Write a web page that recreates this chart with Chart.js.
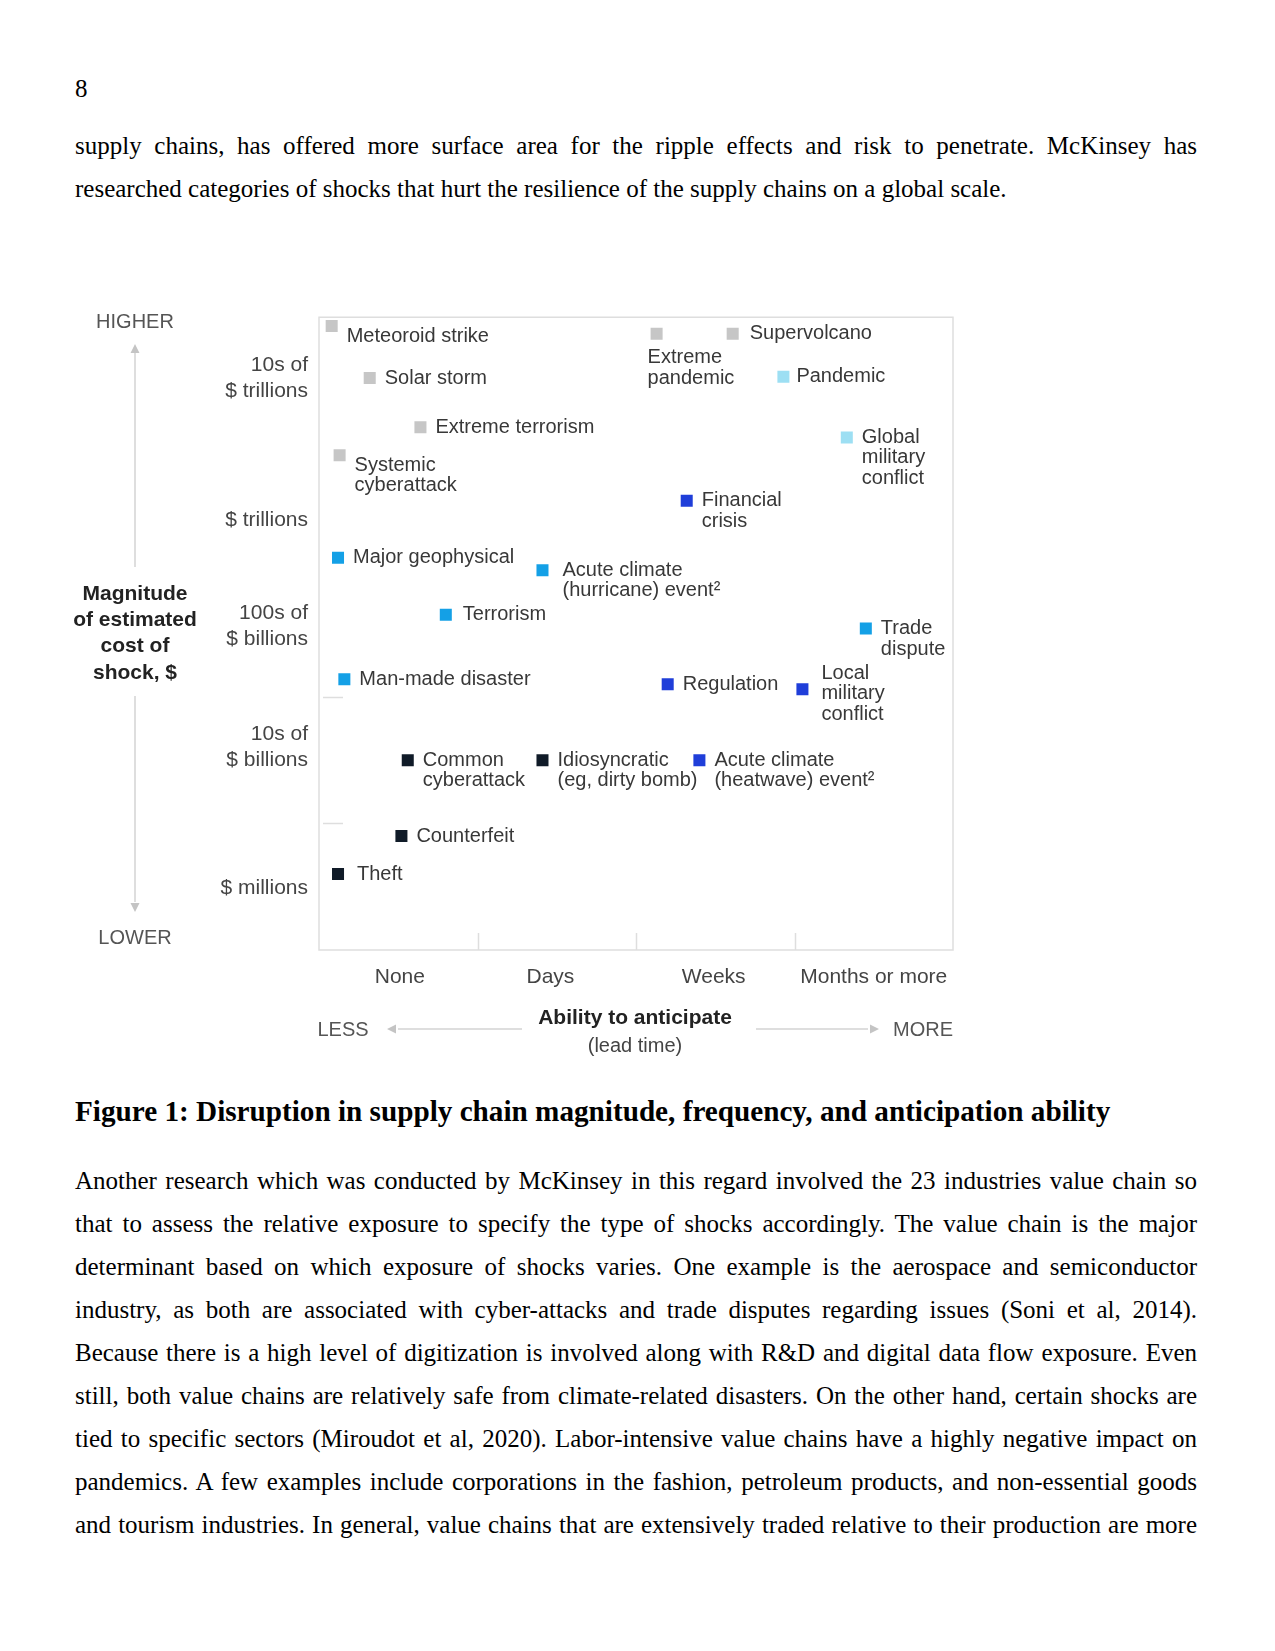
<!DOCTYPE html>
<html><head><meta charset="utf-8">
<script src="https://cdn.jsdelivr.net/npm/chart.js@4.4.1/dist/chart.umd.min.js"></script>
<style>
html,body{margin:0;padding:0;background:#fff;}
body{width:1275px;height:1651px;position:relative;overflow:hidden;font-family:"Liberation Serif","Times New Roman",serif;color:#000;}
.ln{position:absolute;left:75px;white-space:nowrap;font-size:25px;line-height:43px;}
.cap{position:absolute;left:75px;font-weight:bold;font-size:29.2px;line-height:43px;white-space:nowrap;}
#chartWrap{position:absolute;left:0;top:280px;width:1000px;height:790px;}
</style></head><body>
<div class="ln" style="top:67px;">8</div>
<div class="ln j" style="top:124px;">supply chains, has offered more surface area for the ripple effects and risk to penetrate. McKinsey has</div>
<div class="ln" style="top:167px;">researched categories of shocks that hurt the resilience of the supply chains on a global scale.</div>

<div id="chartWrap"><canvas id="c" width="1000" height="790"></canvas></div>

<div class="cap" style="top:1090px;">Figure 1: Disruption in supply chain magnitude, frequency, and anticipation ability</div>

<div class="ln j" style="top:1159px;">Another research which was conducted by McKinsey in this regard involved the 23 industries value chain so</div>
<div class="ln j" style="top:1202px;">that to assess the relative exposure to specify the type of shocks accordingly. The value chain is the major</div>
<div class="ln j" style="top:1245px;">determinant based on which exposure of shocks varies. One example is the aerospace and semiconductor</div>
<div class="ln j" style="top:1288px;">industry, as both are associated with cyber-attacks and trade disputes regarding issues (Soni et al, 2014).</div>
<div class="ln j" style="top:1331px;">Because there is a high level of digitization is involved along with R&amp;D and digital data flow exposure. Even</div>
<div class="ln j" style="top:1374px;">still, both value chains are relatively safe from climate-related disasters. On the other hand, certain shocks are</div>
<div class="ln j" style="top:1417px;">tied to specific sectors (Miroudot et al, 2020). Labor-intensive value chains have a highly negative impact on</div>
<div class="ln j" style="top:1460px;">pandemics. A few examples include corporations in the fashion, petroleum products, and non-essential goods</div>
<div class="ln j" style="top:1503px;">and tourism industries. In general, value chains that are extensively traded relative to their production are more</div>

<script>
// ---------- DATA ----------
const leadTimeLabels = ['None', 'Days', 'Weeks', 'Months or more'];
const leadTimeTickValues = [0.51, 1.46, 2.49, 3.5];
const magnitudeLabels = ['$ millions', ['10s of', '$ billions'], ['100s of', '$ billions'], '$ trillions', ['10s of', '$ trillions']];
const magnitudeTickValues = [0.49, 1.6, 2.56, 3.4, 4.52];

const shockNames = [
  'Meteoroid strike', 'Solar storm', 'Extreme terrorism', 'Systemic\ncyberattack',
  'Extreme\npandemic', 'Supervolcano', 'Pandemic', 'Global\nmilitary\nconflict',
  'Financial\ncrisis', 'Major geophysical', 'Acute climate\n(hurricane) event\u00B2', 'Terrorism',
  'Man-made disaster', 'Trade\ndispute', 'Regulation', 'Local\nmilitary\nconflict',
  'Common\ncyberattack', 'Idiosyncratic\n(eg, dirty bomb)', 'Acute climate\n(heatwave) event\u00B2', 'Counterfeit', 'Theft'
];
const leadTime = [
  0.08, 0.32, 0.64, 0.13,
  2.13, 2.61, 2.93, 3.33,
  2.32, 0.12, 1.41, 0.80,
  0.16, 3.45, 2.20, 3.05,
  0.56, 1.41, 2.40, 0.52, 0.12
];
const costMagnitude = [
  4.93, 4.52, 4.13, 3.91,
  4.87, 4.87, 4.53, 4.05,
  3.55, 3.10, 3.00, 2.65,
  2.14, 2.54, 2.10, 2.06,
  1.50, 1.50, 1.50, 0.90, 0.60
];
// frequency group of each shock (0..4)
const shockGroup = [
  0, 0, 0, 0,
  0, 0, 1, 1,
  3, 2, 2, 2,
  2, 2, 3, 3,
  4, 4, 3, 4, 4
];
const groupNames = ['Group A', 'Group B', 'Group C', 'Group D', 'Group E'];

// ---------- STYLE ----------
const groupColors = ['#c6c6c6', '#9ddff3', '#14a0e6', '#1f3ed9', '#101b28'];
const labelOffsets = {
  'Meteoroid strike': {dy: 10},
  'Systemic\ncyberattack': {dy: 10},
  'Extreme\npandemic': {dx: -9, dy: 24},
  'Local\nmilitary\nconflict': {dx: 19, dy: -16},
  'Acute climate\n(hurricane) event\u00B2': {dx: 20},
  'Supervolcano': {dx: 17},
  'Pandemic': {dx: 13},
  'Theft': {dx: 19},
  'Terrorism': {dx: 17}
};
const SANS = '"Liberation Sans", Arial, Helvetica, sans-serif';

const datasets = groupNames.map((g, gi) => {
  const pts = [], names = [];
  shockNames.forEach((n, i) => {
    if (shockGroup[i] === gi) { pts.push({x: leadTime[i], y: costMagnitude[i]}); names.push(n); }
  });
  return {
    label: g, data: pts, names: names,
    pointStyle: 'rect', pointRadius: 8.5, pointHoverRadius: 8.5,
    backgroundColor: groupColors[gi], borderColor: groupColors[gi], borderWidth: 0
  };
});

const CANVAS_TOP = 280;
const P = (y) => y - CANVAS_TOP;

const decoPlugin = {
  id: 'deco',
  beforeDatasetsDraw(chart) {
    const {ctx, chartArea: a} = chart;
    const xs = chart.scales.x, ys = chart.scales.y;
    ctx.save();
    ctx.strokeStyle = '#dedede';
    ctx.lineWidth = 1.5;
    ctx.strokeRect(a.left, a.top, a.right - a.left, a.bottom - a.top);
    ctx.beginPath();
    [1, 2, 3].forEach(v => {
      const px = Math.round(xs.getPixelForValue(v)) + 0.5;
      ctx.moveTo(px, a.bottom); ctx.lineTo(px, a.bottom - 17);
    });
    [1, 2].forEach(v => {
      const py = Math.round(ys.getPixelForValue(v)) + 0.5;
      ctx.moveTo(a.left + 4, py); ctx.lineTo(a.left + 24, py);
    });
    ctx.stroke();
    ctx.restore();
  },
  afterDraw(chart) {
    const ctx = chart.ctx;
    ctx.save();
    ctx.textAlign = 'center';
    ctx.textBaseline = 'middle';
    // vertical annotation
    ctx.fillStyle = '#555';
    ctx.font = '20px ' + SANS;
    ctx.fillText('HIGHER', 135, P(322));
    ctx.fillText('LOWER', 135, P(938));
    ctx.fillStyle = '#222';
    ctx.font = 'bold 21px ' + SANS;
    ['Magnitude', 'of estimated', 'cost of', 'shock, $'].forEach((t, i) => ctx.fillText(t, 135, P(594 + i * 26.3)));
    ctx.strokeStyle = '#d4d4d4'; ctx.lineWidth = 1.5;
    ctx.beginPath();
    ctx.moveTo(135, P(352)); ctx.lineTo(135, P(567));
    ctx.moveTo(135, P(696)); ctx.lineTo(135, P(902));
    ctx.moveTo(398, P(1029)); ctx.lineTo(522, P(1029));
    ctx.moveTo(756, P(1029)); ctx.lineTo(868, P(1029));
    ctx.stroke();
    ctx.fillStyle = '#c4c4c4';
    ctx.beginPath();
    ctx.moveTo(135, P(344)); ctx.lineTo(130.5, P(353)); ctx.lineTo(139.5, P(353)); ctx.closePath();
    ctx.moveTo(135, P(912)); ctx.lineTo(130.5, P(903)); ctx.lineTo(139.5, P(903)); ctx.closePath();
    ctx.moveTo(387, P(1029)); ctx.lineTo(396, P(1024.5)); ctx.lineTo(396, P(1033.5)); ctx.closePath();
    ctx.moveTo(879, P(1029)); ctx.lineTo(870, P(1024.5)); ctx.lineTo(870, P(1033.5)); ctx.closePath();
    ctx.fill();
    // horizontal annotation
    ctx.fillStyle = '#555';
    ctx.font = '20px ' + SANS;
    ctx.fillText('LESS', 343, P(1030));
    ctx.fillText('MORE', 923, P(1030));
    ctx.fillStyle = '#222';
    ctx.font = 'bold 21px ' + SANS;
    ctx.fillText('Ability to anticipate', 635, P(1018));
    ctx.fillStyle = '#444';
    ctx.font = '20px ' + SANS;
    ctx.fillText('(lead time)', 635, P(1046));
    ctx.restore();
  },
  afterDatasetsDraw(chart) {
    const ctx = chart.ctx;
    ctx.save();
    ctx.font = '20px ' + SANS;
    ctx.fillStyle = '#383838';
    ctx.textAlign = 'left';
    ctx.textBaseline = 'middle';
    chart.data.datasets.forEach((ds, di) => {
      const meta = chart.getDatasetMeta(di);
      meta.data.forEach((pt, i) => {
        const name = ds.names[i];
        const off = labelOffsets[name] || {};
        const dx = off.dx !== undefined ? off.dx : 15;
        const dy = off.dy !== undefined ? off.dy : 0;
        name.split('\n').forEach((line, k) => {
          ctx.fillText(line, pt.x + dx, pt.y + dy + k * 20.5);
        });
      });
    });
    ctx.restore();
  }
};

new Chart(document.getElementById('c'), {
  type: 'scatter',
  data: { datasets: datasets },
  plugins: [decoPlugin],
  options: {
    responsive: false,
    animation: false,
    devicePixelRatio: 1,
    layout: { padding: { top: 28, right: 47, left: 0, bottom: 0 } },
    plugins: { legend: { display: false }, tooltip: { enabled: false } },
    scales: {
      x: {
        type: 'linear', min: 0, max: 4,
        grid: { display: false, drawTicks: false }, border: { display: false },
        afterFit: s => { s.height = 120; },
        afterBuildTicks: s => { s.ticks = leadTimeTickValues.map(v => ({ value: v })); },
        ticks: {
          autoSkip: false, maxRotation: 0, padding: 15, color: '#444',
          font: { family: SANS, size: 21 },
          callback: (v, i) => leadTimeLabels[i]
        }
      },
      y: {
        type: 'linear', min: 0, max: 5,
        grid: { display: false, drawTicks: false }, border: { display: false },
        afterFit: s => { s.width = 319; },
        afterBuildTicks: s => { s.ticks = magnitudeTickValues.map(v => ({ value: v })); },
        ticks: {
          autoSkip: false, padding: 11, color: '#444',
          font: { family: SANS, size: 21, lineHeight: 1.25 },
          callback: (v, i) => magnitudeLabels[i]
        }
      }
    }
  }
});

// manual justification of full lines
function justify() {
  const target = 1122;
  document.querySelectorAll('.ln.j').forEach(el => {
    el.style.wordSpacing = '0px';
    const w = el.getBoundingClientRect().width;
    const spaces = (el.textContent.match(/ /g) || []).length;
    if (spaces) el.style.wordSpacing = ((target - w) / spaces) + 'px';
  });
}
justify();
if (document.fonts && document.fonts.ready) document.fonts.ready.then(justify);
</script>
</body></html>
